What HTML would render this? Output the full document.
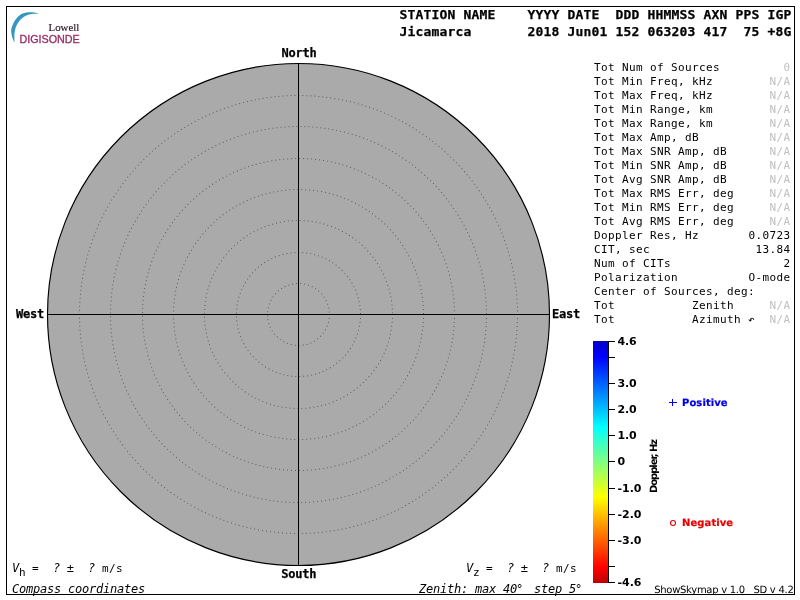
<!DOCTYPE html>
<html lang="en">
<head>
<meta charset="utf-8">
<title>Digisonde Skymap - Jicamarca</title>
<style>
html,body{margin:0;padding:0;background:#fff;}
body{width:800px;height:600px;overflow:hidden;}
svg{display:block;position:absolute;left:0;top:0;}
.m11{font-family:"DejaVu Sans Mono", "Liberation Mono", monospace;font-size:11px;letter-spacing:0.3774px;fill:#000;white-space:pre;}
.m12{font-family:"DejaVu Sans Mono", "Liberation Mono", monospace;font-size:12px;letter-spacing:-0.2246px;fill:#000;white-space:pre;}
.m12b{font-family:"DejaVu Sans Mono", "Liberation Mono", monospace;font-size:12px;font-weight:bold;letter-spacing:-0.2246px;fill:#000;stroke:#000;stroke-width:0.25px;white-space:pre;}
.m12i{font-family:"DejaVu Sans Mono", "Liberation Mono", monospace;font-size:12px;font-style:italic;letter-spacing:-0.2246px;fill:#000;white-space:pre;}
.m13b{font-family:"DejaVu Sans Mono", "Liberation Mono", monospace;font-size:13px;font-weight:bold;letter-spacing:0.1733px;fill:#000;stroke:#000;stroke-width:0.25px;white-space:pre;}
.s11b{font-family:"DejaVu Sans", "Liberation Sans", sans-serif;font-size:11px;font-weight:bold;fill:#000;}
.s10b{font-family:"DejaVu Sans", "Liberation Sans", sans-serif;font-size:10px;font-weight:bold;fill:#000;text-rendering:geometricPrecision;}
.s10{font-family:"DejaVu Sans", "Liberation Sans", sans-serif;font-size:10px;letter-spacing:-0.28px;fill:#000;white-space:pre;text-rendering:geometricPrecision;}
.g{fill:#c0c0c0;}
</style>
</head>
<body>
<svg width="800" height="600" viewBox="0 0 800 600">
<rect x="0" y="0" width="800" height="600" fill="#ffffff"/>
<rect x="6.5" y="6.5" width="788" height="588" fill="none" stroke="#000" stroke-width="1" shape-rendering="crispEdges"/>
<g id="logo">
<path d="M39.3 13.4C38.4 13.2 35.9 12.6 34.0 12.4C32.1 12.2 30.2 12.0 28.0 12.3C25.8 12.6 23.1 13.0 21.0 14.3C18.9 15.6 16.7 18.0 15.2 20.1C13.7 22.2 12.5 25.3 11.8 27.2C11.1 29.1 11.1 29.9 11.2 31.6C11.3 33.3 11.8 35.6 12.3 37.5C12.9 39.4 14.1 41.9 14.5 42.8C14.5 41.5 14.3 37.4 14.4 35.3C14.5 33.2 14.6 31.9 15.0 30.2C15.4 28.5 15.8 26.9 16.7 25.2C17.6 23.5 18.9 21.3 20.3 19.8C21.7 18.3 23.3 17.0 25.2 16.0C27.1 15.0 29.2 14.3 31.6 13.9C34.0 13.5 38.0 13.5 39.3 13.4Z" fill="#3596c2"/>
<text x="48.6" y="30.6" font-family='"Liberation Serif", serif' font-size="11" fill="#2e1a2e" stroke="#2e1a2e" stroke-width="0.2" textLength="30.6" lengthAdjust="spacingAndGlyphs">Lowell</text>
<text x="19.4" y="43.1" font-family='"Liberation Sans", sans-serif' font-size="10.6" fill="#962d66" stroke="#962d66" stroke-width="0.3" textLength="60.4" lengthAdjust="spacingAndGlyphs">DIGISONDE</text>
</g>
<g id="skymap">
<circle cx="298.5" cy="314.5" r="251" fill="#aaaaaa" stroke="#000" stroke-width="1.15"/>
<circle cx="298.5" cy="314.5" r="31" fill="none" stroke="#5e5e5e" stroke-width="1.01" stroke-dasharray="1 3" stroke-dashoffset="0.5"/>
<circle cx="298.5" cy="314.5" r="62" fill="none" stroke="#5e5e5e" stroke-width="1.01" stroke-dasharray="1 3" stroke-dashoffset="0.5"/>
<circle cx="298.5" cy="314.5" r="94" fill="none" stroke="#5e5e5e" stroke-width="1.01" stroke-dasharray="1 3" stroke-dashoffset="0.5"/>
<circle cx="298.5" cy="314.5" r="125" fill="none" stroke="#5e5e5e" stroke-width="1.01" stroke-dasharray="1 3" stroke-dashoffset="0.5"/>
<circle cx="298.5" cy="314.5" r="156" fill="none" stroke="#5e5e5e" stroke-width="1.01" stroke-dasharray="1 3" stroke-dashoffset="0.5"/>
<circle cx="298.5" cy="314.5" r="188" fill="none" stroke="#5e5e5e" stroke-width="1.01" stroke-dasharray="1 3" stroke-dashoffset="0.5"/>
<circle cx="298.5" cy="314.5" r="219" fill="none" stroke="#5e5e5e" stroke-width="1.01" stroke-dasharray="1 3" stroke-dashoffset="0.5"/>
<rect x="298" y="63" width="1" height="503" fill="#000" shape-rendering="crispEdges"/>
<rect x="47" y="314" width="503" height="1" fill="#000" shape-rendering="crispEdges"/>
<text class="m12b" x="281.6" y="57">North</text>
<text class="m12b" x="281.3" y="578">South</text>
<text class="m12b" x="16" y="318">West</text>
<text class="m12b" x="552" y="318">East</text>
</g>
<g id="header">
<text class="m13b" x="399.5" y="19">STATION NAME    YYYY DATE  DDD HHMMSS AXN PPS IGP</text>
<text class="m13b" x="399.5" y="36">Jicamarca       2018 Jun01 152 063203 417  75 +8G</text>
</g>
<g id="info">
<text class="m11" x="594" y="71">Tot Num of Sources</text>
<text class="m11 g" x="783.4" y="71">0</text>
<text class="m11" x="594" y="85">Tot Min Freq, kHz</text>
<text class="m11 g" x="769.4" y="85">N/A</text>
<text class="m11" x="594" y="99">Tot Max Freq, kHz</text>
<text class="m11 g" x="769.4" y="99">N/A</text>
<text class="m11" x="594" y="113">Tot Min Range, km</text>
<text class="m11 g" x="769.4" y="113">N/A</text>
<text class="m11" x="594" y="127">Tot Max Range, km</text>
<text class="m11 g" x="769.4" y="127">N/A</text>
<text class="m11" x="594" y="141">Tot Max Amp, dB</text>
<text class="m11 g" x="769.4" y="141">N/A</text>
<text class="m11" x="594" y="155">Tot Max SNR Amp, dB</text>
<text class="m11 g" x="769.4" y="155">N/A</text>
<text class="m11" x="594" y="169">Tot Min SNR Amp, dB</text>
<text class="m11 g" x="769.4" y="169">N/A</text>
<text class="m11" x="594" y="183">Tot Avg SNR Amp, dB</text>
<text class="m11 g" x="769.4" y="183">N/A</text>
<text class="m11" x="594" y="197">Tot Max RMS Err, deg</text>
<text class="m11 g" x="769.4" y="197">N/A</text>
<text class="m11" x="594" y="211">Tot Min RMS Err, deg</text>
<text class="m11 g" x="769.4" y="211">N/A</text>
<text class="m11" x="594" y="225">Tot Avg RMS Err, deg</text>
<text class="m11 g" x="769.4" y="225">N/A</text>
<text class="m11" x="594" y="239">Doppler Res, Hz</text>
<text class="m11" x="748.4" y="239">0.0723</text>
<text class="m11" x="594" y="253">CIT, sec</text>
<text class="m11" x="755.4" y="253">13.84</text>
<text class="m11" x="594" y="267">Num of CITs</text>
<text class="m11" x="783.4" y="267">2</text>
<text class="m11" x="594" y="281">Polarization</text>
<text class="m11" x="748.4" y="281">O-mode</text>
<text class="m11" x="594" y="295">Center of Sources, deg:</text>
<text class="m11" x="594" y="309">Tot</text>
<text class="m11" x="692" y="309">Zenith</text>
<text class="m11 g" x="769.4" y="309">N/A</text>
<text class="m11" x="594" y="323">Tot</text>
<text class="m11" x="692" y="323">Azimuth</text>
<text class="m11" x="748" y="323">&#8630;</text>
<text class="m11 g" x="769.4" y="323">N/A</text>
</g>
<defs><linearGradient id="jet" x1="0" y1="0" x2="0" y2="1">
<stop offset="0.000" stop-color="#0000c6"/>
<stop offset="0.065" stop-color="#0000ff"/>
<stop offset="0.355" stop-color="#00ffff"/>
<stop offset="0.500" stop-color="#80ff80"/>
<stop offset="0.645" stop-color="#ffff00"/>
<stop offset="0.935" stop-color="#ff0000"/>
<stop offset="1.000" stop-color="#bf0000"/>
</linearGradient></defs>
<g id="colorbar">
<rect x="593" y="341" width="15" height="242" fill="url(#jet)" shape-rendering="crispEdges"/>
<rect x="608" y="341" width="1" height="242" fill="#000" shape-rendering="crispEdges"/>
<rect x="608" y="341" width="7" height="1" fill="#000" shape-rendering="crispEdges"/>
<text class="s11b" x="617.6" y="345" style="letter-spacing:-0.25px">4.6</text>
<rect x="608" y="357" width="7" height="1" fill="#000" shape-rendering="crispEdges"/>
<rect x="608" y="383" width="7" height="1" fill="#000" shape-rendering="crispEdges"/>
<text class="s11b" x="617.6" y="387" style="letter-spacing:-0.25px">3.0</text>
<rect x="608" y="409" width="7" height="1" fill="#000" shape-rendering="crispEdges"/>
<text class="s11b" x="617.6" y="413" style="letter-spacing:-0.25px">2.0</text>
<rect x="608" y="435" width="7" height="1" fill="#000" shape-rendering="crispEdges"/>
<text class="s11b" x="617.6" y="439" style="letter-spacing:-0.25px">1.0</text>
<rect x="608" y="461" width="7" height="1" fill="#000" shape-rendering="crispEdges"/>
<text class="s11b" x="617.6" y="465" style="letter-spacing:-0.25px">0</text>
<rect x="608" y="488" width="7" height="1" fill="#000" shape-rendering="crispEdges"/>
<text class="s11b" x="617.6" y="492" style="letter-spacing:-0.05px">-1.0</text>
<rect x="608" y="514" width="7" height="1" fill="#000" shape-rendering="crispEdges"/>
<text class="s11b" x="617.6" y="518" style="letter-spacing:-0.05px">-2.0</text>
<rect x="608" y="540" width="7" height="1" fill="#000" shape-rendering="crispEdges"/>
<text class="s11b" x="617.6" y="544" style="letter-spacing:-0.05px">-3.0</text>
<rect x="608" y="566" width="7" height="1" fill="#000" shape-rendering="crispEdges"/>
<rect x="608" y="582" width="7" height="1" fill="#000" shape-rendering="crispEdges"/>
<text class="s11b" x="617.6" y="586" style="letter-spacing:-0.05px">-4.6</text>
<text class="s10b" transform="translate(657,493) rotate(-90)" style="letter-spacing:-1.05px">Doppler, Hz</text>
<path d="M669 402.5H677M672.5 399V406" fill="none" stroke="#0000f0" stroke-width="1" shape-rendering="crispEdges"/>
<text class="s10b" x="682" y="406" style="fill:#0000e8;stroke:#0000e8;stroke-width:0.2px;letter-spacing:0.08px">Positive</text>
<circle cx="673" cy="523" r="2.5" fill="none" stroke="#f00000" stroke-width="1.1"/>
<text class="s10b" x="682" y="526" style="fill:#e80000;stroke:#e80000;stroke-width:0.2px;letter-spacing:0.08px">Negative</text>
</g>
<g id="footer">
<text class="m11" y="572"><tspan class="m12i" x="12">V</tspan><tspan x="19" dy="4">h</tspan><tspan x="25" dy="-4"> =  </tspan><tspan class="m12i" x="53">?</tspan><tspan class="m12" x="59.7"> ±  </tspan><tspan class="m12i" x="88">?</tspan><tspan x="95"> m/s</tspan></text>
<text class="m12i" x="12" y="593">Compass coordinates</text>
<text class="m11" y="572"><tspan class="m12i" x="466">V</tspan><tspan x="473" dy="4">z</tspan><tspan x="479" dy="-4"> =  </tspan><tspan class="m12i" x="507">?</tspan><tspan class="m12" x="513.7"> ±  </tspan><tspan class="m12i" x="542">?</tspan><tspan x="549"> m/s</tspan></text>
<text class="m12i" y="593"><tspan x="419">Zenith: max 40</tspan><tspan x="516">°</tspan><tspan x="520">  step 5</tspan><tspan x="575">°</tspan></text>
<text class="s10" x="654.2" y="593">ShowSkymap v 1.0   SD v 4.2</text>
</g>
</svg>
</body>
</html>
